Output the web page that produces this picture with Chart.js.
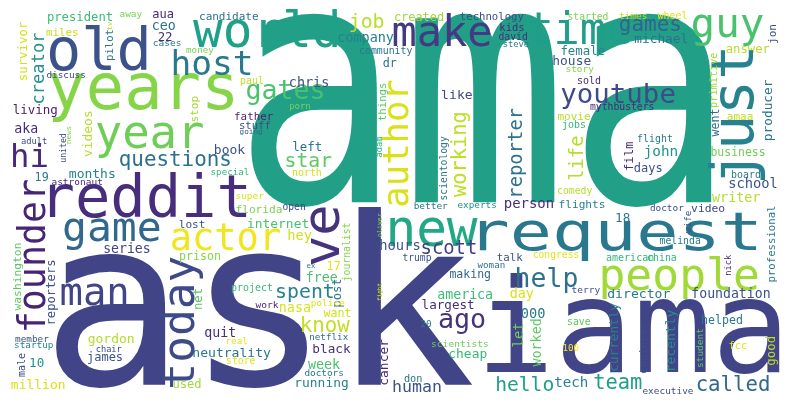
<!DOCTYPE html>
<html lang="en">
<head>
  <meta charset="UTF-8" />
  <title>AMA word cloud</title>
  <script src="https://cdn.jsdelivr.net/npm/chart.js"></script>
  <style>
    body { margin: 0; background: #fff; }
    canvas { display: block; }
  </style>
</head>
<body>
  <canvas id="cloud" width="790" height="405"></canvas>
  <script>
    // words, their centre on the picture (x, y) and ink length along the text
    const words = ['ama','ask','iama','request','new','years','year','old','world','host','hi','reddit','gates','questions','creator','president','survivor','miles','tv','pilot','away','aua','ceo','22','cases','money','candidate','job','company','dr','author','chris','discuss','living','aka','adult','videos','united','news','months','19','astronaut','book','left','star','father','stuff','going','porn','stop','things','adam','paul','special','north','super','community','created','make','time','games','guy','technology','kids','david','steve','michael','started','times','wheel','jon','female','answer','house','story','sold','youtube','just','like','primitive','producer','mythbusters','movie','jobs','amaa','went','working','reporter','life','flight','film','john','days','business','board','school','writer','scientology','comedy','game','actor','founder','man','today','ve','spent','know','nasa','free','17','post','journalist','oliver','fight','internet','florida','open','lost','hey','series','prison','ex','reporters','washington','net','project','police','work','want','gordon','quit','real','netflix','neutrality','black','chair','member','startup','10','male','james','store','week','doctors','million','used','running','cancer','people','help','scott','ago','talk','congress','american','china','nick','professional','melinda','won','wife','doctor','video','18','person','flights','better','experts','hours','trump','woman','making','america','day','director','foundation','terry','largest','000','let','worked','currently','engineer','recently','helped','save','20','scientists','100','fcc','student','good','cheap','human','don','hello','tech','team','called','executive'];
    const xs = [481,264,633,618,434,142,150,98,265,212,30,148,285,175,38,80,22,62,109,110,131,163,164,165,167,200,229,367,366,390,395,309,66,35,26,34,87,63,69,92,42,77,230,307,309,254,255,251,300,195,383,379,252,230,307,250,386,419,442,580,650,728,492,512,513,516,661,588,633,672,773,583,748,572,580,589,618,737,457,714,768,622,574,574,740,715,460,517,576,655,628,661,648,738,746,753,736,444,575,112,226,31,94,182,324,305,326,295,322,334,338,347,380,380,278,259,294,192,300,127,200,311,52,18,198,252,328,267,337,111,220,237,329,232,332,109,32,34,37,21,105,241,324,324,38,187,322,384,680,547,449,462,510,556,630,662,728,772,680,739,687,667,708,623,529,582,431,477,400,417,491,470,465,522,639,731,586,448,533,518,536,614,644,671,722,579,426,460,571,738,700,772,468,417,413,525,571,618,733,668];
    const ys = [108,297,323,237,232,98,140,48,28,62,155,195,93,160,68,18,51,32,26,45,15,15,26,36,43,51,16,23,40,63,143,82,75,111,128,141,134,148,135,173,177,182,149,146,160,116,125,132,107,109,102,147,81,172,172,197,51,17,30,28,27,30,17,27,36,44,38,16,15,15,34,50,50,60,70,80,95,115,94,80,110,107,116,125,117,123,155,152,158,139,156,152,169,152,174,183,197,168,191,234,237,255,294,322,236,293,324,308,277,266,293,252,225,292,223,209,208,224,236,248,257,266,292,277,299,288,303,304,313,339,333,340,336,353,348,349,339,346,362,365,358,361,364,373,384,384,384,362,277,280,248,323,257,256,257,257,265,244,240,236,222,208,208,217,205,205,206,206,245,259,265,275,294,294,293,293,291,306,313,335,343,337,348,340,321,322,324,343,348,345,348,351,354,386,378,384,382,382,383,390];
    const lengths = [462,418,293,277,88,183,106,97,144,77,34,197,76,110,70,64,58,31,8,30,22,20,22,13,27,27,58,33,55,13,125,38,38,43,22,25,45,28,17,45,12,50,30,28,45,38,30,22,20,25,37,20,22,37,28,27,52,48,97,100,60,70,63,23,28,25,52,39,27,29,18,43,43,37,27,22,113,130,30,54,60,63,32,22,25,27,84,87,43,34,28,32,27,53,28,47,48,63,34,95,108,150,65,130,58,56,48,30,30,12,27,57,23,17,60,45,22,25,23,45,40,8,63,67,20,40,33,23,27,45,30,20,38,77,37,25,33,38,13,23,34,28,32,38,53,27,51,45,155,60,53,45,25,45,47,28,20,75,40,13,22,33,33,13,48,45,33,38,39,28,27,40,54,23,62,77,28,51,23,23,47,67,50,60,40,22,10,56,15,17,38,28,37,47,17,56,32,47,71,50];
    // ink height for the few huge words, 0 = keep natural proportions
    const heights = {ama: 195, ask: 180, iama: 100, request: 49};
    const vertical = ['creator','survivor','tv','pilot','author','videos','united','news','stop','things','adam','jon','just','primitive','producer','went','working','reporter','life','film','scientology','founder','today','ve','post','journalist','oliver','fight','reporters','washington','net','male','cancer','nick','professional','won','wife','let','worked','currently','engineer','recently','student','good'];
    const colors = ['#22a087','#414487','#414487','#2a788e','#22a884','#86d549','#6ece58','#3b528b','#1fa187','#2a788e','#482878','#472d7b','#4ac16d','#2c728e','#21918c','#3bbb75','#d2e21b','#c8e020','#b5de2b','#2a788e','#7ad151','#482878','#2c728e','#472d7b','#2a788e','#7ad151','#2c728e','#b8de29','#26828e','#2c728e','#d8e219','#3b528b','#414487','#482173','#472d7b','#3e4a89','#b5de2b','#3e4a89','#86d549','#25848e','#2a788e','#472d7b','#3b528b','#2a788e','#5ec962','#481f70','#3e4a89','#31688e','#7ad151','#a5db36','#5ec962','#2db27d','#c2df23','#35b779','#d0e11c','#d8e219','#2a788e','#a0da39','#443a83','#1f9e89','#33638d','#4ac16d','#3e4a89','#482878','#46327e','#2a788e','#2c728e','#7ad151','#c2df23','#e2e418','#3b528b','#25858e','#b5de2b','#3b528b','#86d549','#482878','#3e4a89','#26828e','#3e4a89','#a0da39','#2c728e','#482878','#b5de2b','#35b779','#c2df23','#31688e','#bddf26','#2c728e','#b5de2b','#2a788e','#472d7b','#21918c','#3b528b','#6ece58','#2a788e','#3b528b','#b5de2b','#2a788e','#b5de2b','#31688e','#f1e51d','#482475','#414487','#3e4a89','#46337e','#26828e','#c2df23','#d8e219','#4ac16d','#e5e419','#2a788e','#86d549','#86d549','#c8e020','#4ac16d','#7ad151','#3e4a89','#3b528b','#d0e11c','#414487','#86d549','#2a788e','#3b528b','#5ec962','#5ec962','#35b779','#e2e418','#482878','#d2e21b','#b5de2b','#472d7b','#e5e419','#2c728e','#2a788e','#472d7b','#3e4a89','#3b528b','#26828e','#21918c','#3e4a89','#3b528b','#e2e418','#4ac16d','#2a788e','#d8e219','#a0da39','#26828e','#482878','#a0da39','#2c728e','#433e85','#46337e','#3b528b','#e2e418','#35b779','#35b779','#482878','#2a788e','#2a788e','#2a788e','#3b528b','#3b528b','#3e4a89','#2a788e','#472d7b','#26828e','#2a788e','#21918c','#3b528b','#3b528b','#2c728e','#31688e','#3bbb75','#d8e219','#2a788e','#3b528b','#3b528b','#472d7b','#2a788e','#6ece58','#5ec962','#26828e','#3b528b','#21918c','#2a788e','#5ec962','#2a788e','#6ece58','#fde725','#e5e419','#5ec962','#c2df23','#35b779','#3b528b','#2a788e','#1f9e89','#26828e','#1f9e89','#31688e','#3e4a89'];

    const FONT = '"DejaVu Sans Mono", monospace';

    const wordPlugin = {
      id: 'words',
      afterDatasetsDraw(chart) {
        const ctx = chart.ctx;
        const sx = chart.scales.x, sy = chart.scales.y;
        const unitX = Math.abs(sx.getPixelForValue(1) - sx.getPixelForValue(0));
        const unitY = Math.abs(sy.getPixelForValue(1) - sy.getPixelForValue(0));
        chart.getDatasetMeta(0).data.forEach((pt, i) => {
          const word = words[i];
          const rot = vertical.includes(word);
          ctx.save();
          ctx.font = '100px ' + FONT;
          ctx.textAlign = 'left';
          ctx.textBaseline = 'alphabetic';
          const m = ctx.measureText(word);
          const inkW = m.actualBoundingBoxLeft + m.actualBoundingBoxRight;
          const inkH = m.actualBoundingBoxAscent + m.actualBoundingBoxDescent;
          const s = lengths[i] * (rot ? unitY : unitX) / inkW;
          const h = heights[word] ? heights[word] * unitY / inkH : s;
          ctx.translate(pt.x, pt.y);
          if (rot) ctx.rotate(-Math.PI / 2);
          ctx.scale(s, h);
          ctx.fillStyle = colors[i];
          ctx.fillText(word, (m.actualBoundingBoxLeft - m.actualBoundingBoxRight) / 2,
            (m.actualBoundingBoxAscent - m.actualBoundingBoxDescent) / 2);
          ctx.restore();
        });
      }
    };

    new Chart(document.getElementById('cloud'), {
      type: 'scatter',
      data: {
        datasets: [{
          data: words.map((w, i) => ({ x: xs[i], y: ys[i] })),
          pointRadius: 0,
          pointHoverRadius: 0
        }]
      },
      options: {
        responsive: false,
        animation: false,
        layout: { padding: 0 },
        plugins: { legend: { display: false }, tooltip: { enabled: false } },
        scales: {
          x: { type: 'linear', min: 0, max: 790, display: false },
          y: { type: 'linear', min: 0, max: 405, reverse: true, display: false }
        }
      },
      plugins: [wordPlugin]
    });
  </script>
</body>
</html>
